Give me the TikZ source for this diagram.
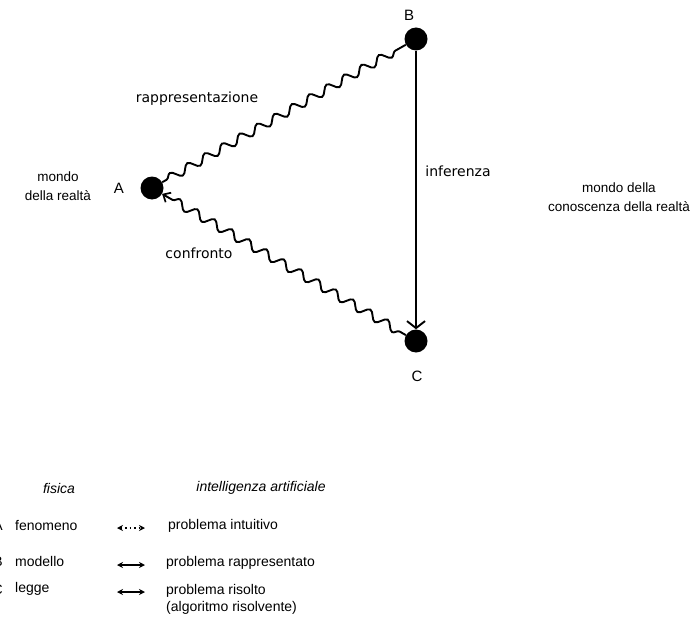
\documentclass[tikz,border=0pt]{standalone}
\usepackage{fontspec}
\setmainfont{Liberation Sans}
\newfontfamily\dejavu{DejaVu Sans}
\usetikzlibrary{decorations.pathmorphing,arrows.meta}
\begin{document}
\begin{tikzpicture}[x=1pt,y=-1pt,
  dot/.style={circle,fill=black,inner sep=0pt,minimum size=23pt},
  lbl/.style={font=\fontsize{13.5}{19}\selectfont,inner sep=0pt},
  ptlbl/.style={font=\fontsize{15}{17}\selectfont,inner sep=0pt},
  addlbl/.style={font=\dejavu\fontsize{14}{16}\selectfont,inner sep=0pt},
  leg/.style={font=\fontsize{14}{17}\selectfont,inner sep=0pt,anchor=west},
  legh/.style={font=\itshape\fontsize{14}{17}\selectfont,inner sep=0pt},
  wavy/.style={line width=1.9pt,decorate,decoration={snake,amplitude=4.3pt,segment length=20pt,pre length=5pt,post length=5pt}},
  legarrow/.style={line width=1.2pt,{Stealth[length=6pt,width=6pt]}-{Stealth[length=6pt,width=6pt]}}
]
\fill[white] (0,0) rectangle (698,623);
\useasboundingbox (0,0) rectangle (698,623);

% main points
\node[dot] (A) at (152,188) {};
\node[dot] (B) at (416,39) {};
\node[dot] (C) at (416,341) {};
\node[ptlbl] (la) at (119,188) {A};
\node[ptlbl] (lb) at (409,15) {B};
\node[ptlbl] (lc) at (417,376) {C};

% connectors
\draw[wavy] (A) -- (B);
\draw[wavy,decoration={pre length=12pt},{Straight Barb[length=6pt,width=11pt,line width=1.7pt]}-] (A) -- (C);
\draw[line width=1.9pt,-{Straight Barb[length=7pt,width=18pt]}] (B) -- (C);

% labels
\node[addlbl] (rap) at (197,99) {rappresentazione};
\node[addlbl] (inf) at (458,171) {inferenza};
\node[addlbl] (conf) at (199,253) {confronto};
\node[lbl,align=center] (mr) at (58,186) {mondo\\della realtà};
\node[lbl,align=center] (mc) at (619,197) {mondo della\\conoscenza della realtà};

% legend
\node[legh] (fis) at (59,488) {fisica};
\node[legh] (ia) at (261,488) {intelligenza artificiale};

\node[leg,anchor=east] (ka) at (3,526) {A};
\node[leg,anchor=east] (kb) at (3,562) {B};
\node[leg,anchor=east] (kc) at (3,590) {C};

\node[leg] (fen) at (15,525) {fenomeno};
\node[leg] (mod) at (15,561) {modello};
\node[leg] (leg1) at (15,589) {legge};

\coordinate (a1) at (117,528);
\coordinate (a2) at (145,528);
\coordinate (b1) at (117,565);
\coordinate (b2) at (145,565);
\coordinate (c1) at (117,592);
\coordinate (c2) at (145,592);
\draw[legarrow,dash pattern=on 1.5pt off 3pt] (a1) -- (a2);
\draw[legarrow] (b1) -- (b2);
\draw[legarrow] (c1) -- (c2);

\node[leg] (pi) at (168,526) {problema intuitivo};
\node[leg] (pr) at (166,563) {problema rappresentato};
\node[leg,align=left] (ps) at (166,599) {problema risolto\\(algoritmo risolvente)};
\end{tikzpicture}
\end{document}
